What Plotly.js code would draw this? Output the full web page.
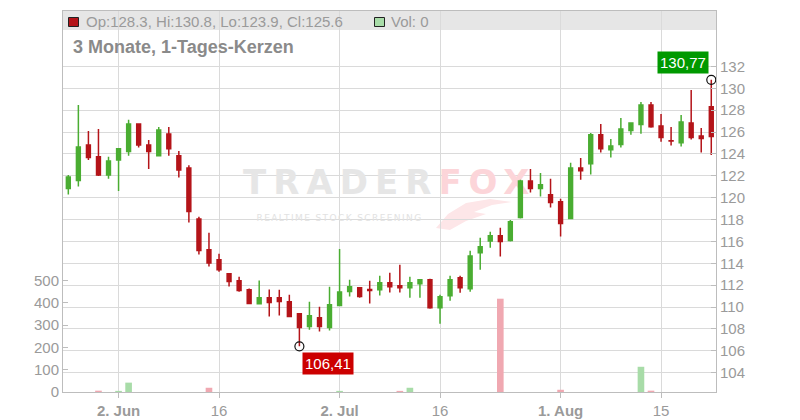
<!DOCTYPE html>
<html>
<head>
<meta charset="utf-8">
<script src="https://cdn.plot.ly/plotly-3.0.1.min.js"></script>
<style>html,body{margin:0;padding:0;background:#fff;}#chart{width:800px;height:420px;}</style>
</head>
<body>
<div id="chart"></div>
<script>
const dates = [
 '2025-05-26','2025-05-27','2025-05-28','2025-05-29','2025-05-30',
 '2025-06-02','2025-06-03','2025-06-04','2025-06-05','2025-06-06',
 '2025-06-09','2025-06-10','2025-06-11','2025-06-12','2025-06-13',
 '2025-06-16','2025-06-17','2025-06-18','2025-06-19','2025-06-20',
 '2025-06-23','2025-06-24','2025-06-25','2025-06-26','2025-06-27',
 '2025-06-30','2025-07-01','2025-07-02','2025-07-03','2025-07-04',
 '2025-07-07','2025-07-08','2025-07-09','2025-07-10','2025-07-11',
 '2025-07-14','2025-07-15','2025-07-16','2025-07-17','2025-07-18',
 '2025-07-21','2025-07-22','2025-07-23','2025-07-24','2025-07-25',
 '2025-07-28','2025-07-29','2025-07-30','2025-07-31','2025-08-01',
 '2025-08-04','2025-08-05','2025-08-06','2025-08-07','2025-08-08',
 '2025-08-11','2025-08-12','2025-08-13','2025-08-14','2025-08-15',
 '2025-08-18','2025-08-19','2025-08-20','2025-08-21','2025-08-22'
];
const open = [
 120.83,121.56,124.82,123.73,122.08, 123.45,124.21,126.74,124.82,123.84,
 125.83,123.82,122.72,118.06,115.23, 114.32,113.04,112.40,111.58,110.30,
 110.85,110.85,110.48,109.39,108.23, 109.02,108.14,110.15,111.42,111.76,
 111.61,111.58,112.22,111.95,111.76, 112.13,112.49,109.94,111.03,112.68,
 111.67,114.96,116.05,116.51,116.08, 118.18,121.53,120.83,120.26,119.62,
 118.09,122.72,123.11,125.74,124.39, 124.85,126.13,126.68,128.47,126.56,
 125.21,125.03,126.83,125.64,128.3
];
const high = [
 122.08,128.47,126.10,126.28,123.73, 124.46,127.11,126.74,125.28,126.47,
 126.47,124.27,122.97,118.25,116.79, 114.87,113.04,112.77,111.70,112.43,
 111.61,111.58,111.12,109.42,110.48, 110.03,111.85,115.32,112.49,111.80,
 112.40,112.86,113.13,113.86,112.77, 112.49,112.58,111.12,112.86,112.86,
 115.14,116.33,116.88,117.24,117.97, 121.63,122.63,122.26,121.72,119.89,
 123.18,123.63,125.92,126.74,125.37, 127.29,126.83,128.75,128.75,127.65,
 126.47,127.56,129.84,126.37,130.77
];
const low = [
 120.28,121.01,123.45,121.99,121.72, 120.62,123.84,124.58,122.63,123.84,
 123.84,121.84,117.73,114.80,113.71, 113.22,111.88,111.40,110.30,110.24,
 109.14,109.23,109.10,106.41,107.93, 107.77,107.86,110.10,110.97,110.85,
 110.33,111.06,111.33,111.33,110.85, 110.85,109.84,108.47,110.58,111.31,
 111.40,113.41,115.42,114.62,115.99, 118.09,120.47,120.10,119.10,116.45,
 118.09,121.63,122.11,124.12,123.66, 124.58,125.76,125.85,126.40,125.12,
 124.76,124.67,125.31,124.12,123.9
];
const close = [
 121.90,124.64,123.66,122.08,123.36, 124.46,126.74,124.82,124.21,126.19,
 124.46,122.54,118.73,115.17,114.02, 113.41,112.34,111.52,110.33,110.85,
 110.42,110.51,109.14,108.14,109.21, 108.23,110.21,111.37,111.85,110.97,
 111.52,112.22,111.85,111.76,112.22, 112.49,109.94,110.94,112.49,111.76,
 114.68,115.51,116.51,115.99,117.79, 121.53,120.83,121.17,119.55,117.63,
 122.72,122.47,125.74,124.48,124.73, 126.28,126.83,128.47,126.49,125.49,
 125.17,126.92,125.49,125.40,125.6
];
const volume = [
 0,0,0,6,0, 5,42,0,0,0,
 0,0,0,0,19, 0,0,0,0,0,
 0,0,0,0,0, 0,0,5,0,0,
 0,0,0,5,19, 0,0,0,0,0,
 0,0,0,418,0, 0,0,0,0,10,
 0,0,0,0,0, 0,0,113,6,0,
 0,0,0,0,0
];
const tickDates = ['2025-06-02','2025-06-16','2025-07-02','2025-07-16','2025-08-01','2025-08-15'];
const tickLabels = ['<b>2. Jun</b>','16','<b>2. Jul</b>','16','<b>1. Aug</b>','15'];
const priceTicks = [104,106,108,110,112,114,116,118,120,122,124,126,128,130,132];
const volTicks = [0,100,200,300,400,500];
const titleText = '3 Monate, 1-Tages-Kerzen';

const GREEN = '#4aad32', RED = '#b41419';
const VOL_GREEN = '#a8dca8', VOL_RED = '#f0a8b1';
const FONT = 'Liberation Sans, Arial, sans-serif';

const n = dates.length;
const volColors = dates.map((d, i) => close[i] >= open[i] ? VOL_GREEN : VOL_RED);
let iMax = 0, iMin = 0;
for (let i = 1; i < n; i++) { if (high[i] > high[iMax]) iMax = i; if (low[i] < low[iMin]) iMin = i; }
const fmt = v => v.toFixed(2).replace('.', ',');
const last = n - 1;
const legendText = 'Op:' + open[last].toFixed(1) + ', Hi:' + high[last].toFixed(1) + ', Lo:' + low[last].toFixed(1) + ', Cl:' + close[last].toFixed(1);
const volText = 'Vol: ' + volume[last];

// pixel -> paper helpers (plot area 63..716 x 11..392)
const PX0 = 63, PX1 = 716, PY0 = 11, PY1 = 392;
const px = x => (x - PX0) / (PX1 - PX0);
const py = y => (PY1 - y) / (PY1 - PY0);

// fox-tail swoosh of the watermark (pixel coords -> paper)
const tailPts = [[436,228],[448,214],[466,203],[490,199],[512,202],[492,205],[474,212],[486,214],[466,221],[450,230]];
const tailPath = 'M ' + tailPts.map(p => px(p[0]).toFixed(4) + ',' + py(p[1]).toFixed(4)).join(' L ') + ' Z';

const traces = [
  {
    type: 'bar', x: dates, y: volume, yaxis: 'y', xaxis: 'x',
    marker: { color: volColors, line: { width: 0 } }, width: 0.66,
    hoverinfo: 'skip', showlegend: false
  },
  {
    type: 'scatter', mode: 'text', xaxis: 'x', yaxis: 'y',
    x: [dates[32]], y: [924],
    text: ['<b><span style="letter-spacing:7px">TRADER</span><span style="letter-spacing:7px;color:#fcd5d9">FOX</span></b>'],
    textposition: 'middle center',
    textfont: { family: 'DejaVu Sans', size: 34, color: '#e6e6e6' },
    hoverinfo: 'skip', showlegend: false
  },
  {
    type: 'scatter', mode: 'text', xaxis: 'x', yaxis: 'y',
    x: [dates[27]], y: [776],
    text: ['<span style="letter-spacing:1.4px">REALTIME STOCK SCREENING</span>'],
    textposition: 'middle center',
    textfont: { family: 'DejaVu Sans', size: 9, color: '#e2e2e2' },
    hoverinfo: 'skip', showlegend: false
  },
  {
    type: 'candlestick', x: dates, open: open, high: high, low: low, close: close,
    xaxis: 'x', yaxis: 'y2',
    increasing: { line: { color: GREEN, width: 1.5 }, fillcolor: GREEN },
    decreasing: { line: { color: RED, width: 1.5 }, fillcolor: RED },
    whiskerwidth: 0, hoverinfo: 'skip', showlegend: false
  },
  {
    type: 'scatter', mode: 'markers', xaxis: 'x', yaxis: 'y2',
    x: [dates[iMax], dates[iMin]], y: [high[iMax], low[iMin]],
    marker: { symbol: 'circle-open', size: 9, color: '#111', line: { width: 1.2, color: '#111' } },
    hoverinfo: 'skip', showlegend: false
  }
];

const axisFont = { family: FONT, size: 15, color: '#9a9a9a' };
const GRID = '#dadada', LINE = '#bdbdbd';

const layout = {
  width: 800, height: 420,
  margin: { l: PX0, r: 800 - PX1, t: PY0, b: 420 - PY1, pad: 0 },
  paper_bgcolor: '#fff', plot_bgcolor: '#fff',
  showlegend: false,
  boxgap: 0.45,
  font: { family: FONT },
  xaxis: {
    type: 'category', range: [-0.53, n - 0.53],
    tickvals: tickDates, ticktext: tickLabels,
    showgrid: true, gridcolor: GRID, gridwidth: 1,
    showline: true, linecolor: LINE, linewidth: 1, mirror: true,
    ticks: 'outside', ticklen: 5, tickcolor: LINE,
    tickfont: axisFont, rangeslider: { visible: false }, fixedrange: true
  },
  yaxis: {
    range: [0, 1707], tickvals: volTicks, side: 'left',
    showgrid: false, zeroline: false,
    showline: true, linecolor: LINE, linewidth: 1,
    ticks: 'inside', ticklen: 5, tickcolor: LINE,
    tickfont: axisFont, fixedrange: true
  },
  yaxis2: {
    overlaying: 'y', side: 'right', range: [102.24, 137.06], tickvals: priceTicks,
    showgrid: true, gridcolor: GRID, gridwidth: 1, zeroline: false,
    showline: true, linecolor: LINE, linewidth: 1,
    ticks: 'inside', ticklen: 5, tickcolor: LINE,
    tickfont: axisFont, fixedrange: true
  },
  shapes: [
    { type: 'rect', xref: 'paper', yref: 'paper', x0: 0, x1: 1, y0: py(30), y1: 1,
      fillcolor: '#e6e6e6', line: { width: 0 }, layer: 'below' },
    { type: 'path', xref: 'paper', yref: 'paper', path: tailPath,
      fillcolor: '#fde6e8', line: { width: 0 }, layer: 'below' },
    { type: 'rect', xref: 'paper', yref: 'paper', x0: px(68.5), x1: px(78.5), y0: py(26.5), y1: py(17.5),
      fillcolor: RED, line: { width: 1, color: '#222' } },
    { type: 'rect', xref: 'paper', yref: 'paper', x0: px(374.5), x1: px(384.5), y0: py(26.5), y1: py(17.5),
      fillcolor: VOL_GREEN, line: { width: 1, color: '#222' } }
  ],
  annotations: [
    { xref: 'paper', yref: 'paper', x: px(84), y: py(21.5), xanchor: 'left', yanchor: 'middle',
      text: legendText, showarrow: false, font: { family: FONT, size: 15, color: '#9a9a9a' } },
    { xref: 'paper', yref: 'paper', x: px(389), y: py(21.5), xanchor: 'left', yanchor: 'middle',
      text: volText, showarrow: false, font: { family: FONT, size: 15, color: '#9a9a9a' } },
    { xref: 'paper', yref: 'paper', x: px(71), y: py(47.5), xanchor: 'left', yanchor: 'middle',
      text: '<b>' + titleText + '</b>', showarrow: false, font: { family: FONT, size: 18, color: '#8a8a8a' } },
    { xref: 'x', yref: 'y2', x: dates[iMax], y: high[iMax], xanchor: 'right', yanchor: 'bottom',
      xshift: -2.5, yshift: 5.5, text: fmt(high[iMax]), showarrow: false,
      bgcolor: '#009900', borderpad: 2, font: { family: FONT, size: 15, color: '#fff' } },
    { xref: 'x', yref: 'y2', x: dates[iMin], y: low[iMin], xanchor: 'left', yanchor: 'top',
      xshift: 3, yshift: -5.5, text: fmt(low[iMin]), showarrow: false,
      bgcolor: '#cc0000', borderpad: 2, font: { family: FONT, size: 15, color: '#fff' } }
  ]
};

Plotly.newPlot('chart', traces, layout, { displayModeBar: false, staticPlot: true });
</script>
</body>
</html>
